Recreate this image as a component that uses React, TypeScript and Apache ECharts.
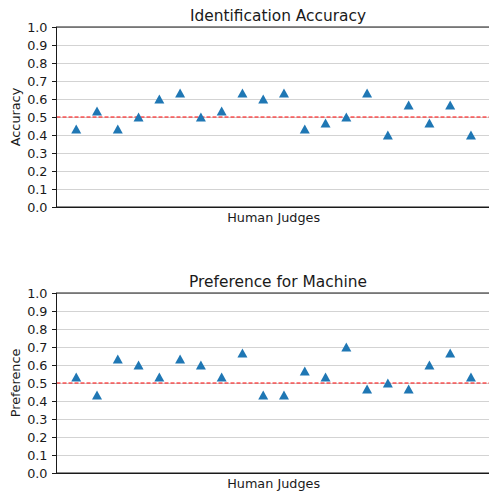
import React, { useEffect, useRef } from "react";
import * as echarts from "echarts";

const judges = Array.from({ length: 20 }, (_, i) => i);
const accuracy = [0.433, 0.533, 0.433, 0.5, 0.6, 0.633, 0.5, 0.533, 0.633, 0.6, 0.633, 0.433, 0.467, 0.5, 0.633, 0.4, 0.567, 0.467, 0.567, 0.4];
const preference = [0.533, 0.433, 0.633, 0.6, 0.533, 0.633, 0.6, 0.533, 0.667, 0.433, 0.433, 0.567, 0.533, 0.7, 0.467, 0.5, 0.467, 0.6, 0.667, 0.533];
const titles = ["Identification Accuracy", "Preference for Machine"];
const yNames = ["Accuracy", "Preference"];
const xName = "Human Judges";
const chanceLevel = 0.5;
const xMin = -0.95;
const xMax = 19.95;

const FONT = "DejaVu Sans";
const INK = "#1a1a1a";

export default function App() {
  const ref = useRef<HTMLDivElement>(null);
  useEffect(() => {
    document.body.style.margin = "0";
    const chart = echarts.init(ref.current!, null, { renderer: "svg" });
    const gridTops = [27, 293];
    const seriesData = [accuracy, preference];
    const scatter = seriesData.map((vals, i) => ({
      type: "scatter",
      xAxisIndex: i,
      yAxisIndex: i,
      symbol: "triangle",
      symbolSize: [10, 9],
      itemStyle: { color: "#1f77b4", opacity: 1 },
      data: judges.map((j) => [j, vals[j]]),
      z: 3,
    }));
    const chance = seriesData.map((_, i) => ({
      type: "line",
      xAxisIndex: i,
      yAxisIndex: i,
      silent: true,
      symbol: "none",
      showSymbol: false,
      lineStyle: { color: "#ff0000", type: [4, 2], width: 1, opacity: 1 },
      itemStyle: { color: "#ff0000" },
      data: [
        [xMin, chanceLevel],
        [xMax, chanceLevel],
      ],
      z: 2,
    }));
    const option: any = {
      animation: false,
      backgroundColor: "#ffffff",
      title: titles.map((t, i) => ({
        text: t,
        left: 273,
        textAlign: "center",
        top: gridTops[i] - 24,
        textStyle: { fontFamily: FONT, fontSize: 15.4, fontWeight: "normal", color: INK },
      })),
      grid: gridTops.map((t) => ({
        left: 56.5,
        right: -1.7,
        top: t,
        height: 180,
        containLabel: false,
        outerBoundsMode: "none",
      })),
      xAxis: gridTops.map((_, i) => ({
        type: "value",
        gridIndex: i,
        min: xMin,
        max: xMax,
        name: xName,
        nameLocation: "middle",
        nameGap: 4,
        nameMoveOverlap: false,
        nameTextStyle: { fontFamily: FONT, fontSize: 12.8, color: INK, verticalAlign: "top" },
        axisLine: { show: true, onZero: false, lineStyle: { color: INK, width: 1 } },
        axisTick: { show: false },
        axisLabel: { show: false },
        splitLine: { show: false },
      })),
      yAxis: gridTops.map((_, i) => ({
        type: "value",
        gridIndex: i,
        min: 0,
        max: 1,
        interval: 0.1,
        name: yNames[i],
        nameLocation: "middle",
        nameGap: 35,
        nameRotate: 90,
        nameMoveOverlap: false,
        nameTextStyle: { fontFamily: FONT, fontSize: 12.8, color: INK },
        axisLine: { show: true, onZero: false, lineStyle: { color: INK, width: 1 } },
        axisTick: { show: true, length: 4.5, lineStyle: { color: INK } },
        axisLabel: {
          fontFamily: FONT,
          fontSize: 12.8,
          color: INK,
          margin: 9,
          formatter: (v: number) => v.toFixed(1),
        },
        splitLine: { show: true, lineStyle: { color: "#d3d3d3", width: 1 } },
      })),
      graphic: gridTops.map((t) => ({
        type: "rect",
        shape: { x: 56.5, y: t, width: 440, height: 180 },
        style: { fill: "none", stroke: INK, lineWidth: 1 },
        silent: true,
        z: 10,
      })),
      series: [...chance, ...scatter],
    };
    chart.setOption(option);
    return () => chart.dispose();
  }, []);
  return <div ref={ref} style={{ width: 489, height: 492 }} />;
}
